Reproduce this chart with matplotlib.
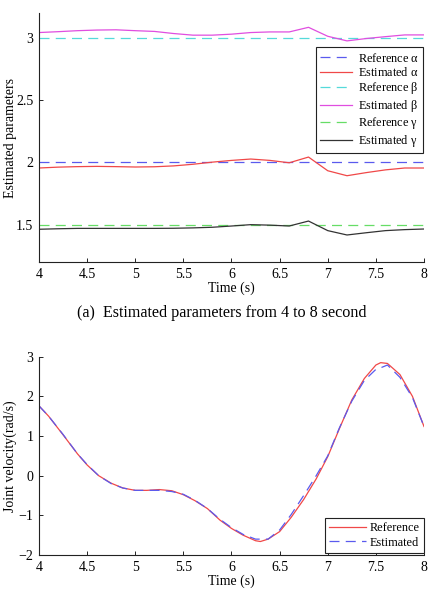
import numpy as np
from matplotlib import pyplot as plt

plt.rcParams.update({'font.size': 10, 'font.family': 'Liberation Serif',
                     'mathtext.fontset': 'custom', 'mathtext.rm': 'Liberation Serif',
                     'mathtext.it': 'Liberation Serif'})

# top chart: parameter estimates sampled every 0.2 s
t_par = [4.0, 4.2, 4.4, 4.6, 4.8, 5.0, 5.2, 5.4, 5.6, 5.8, 6.0,
         6.2, 6.4, 6.6, 6.8, 7.0, 7.2, 7.4, 7.6, 7.8, 8.0]
ref_alpha, ref_beta, ref_gamma = 2.0, 3.0, 1.5
est_alpha = [1.955, 1.962, 1.966, 1.968, 1.966, 1.963, 1.965, 1.972, 1.985, 2.002, 2.016,
             2.027, 2.016, 1.997, 2.043, 1.933, 1.893, 1.918, 1.940, 1.955, 1.955]
est_beta = [3.043, 3.050, 3.058, 3.063, 3.065, 3.058, 3.052, 3.035, 3.022, 3.022, 3.030,
            3.043, 3.048, 3.048, 3.085, 3.013, 2.976, 2.995, 3.010, 3.024, 3.024]
est_gamma = [1.463, 1.467, 1.470, 1.470, 1.470, 1.470, 1.470, 1.471, 1.474, 1.479, 1.489,
             1.500, 1.496, 1.489, 1.529, 1.452, 1.417, 1.435, 1.452, 1.460, 1.465]

# bottom chart: joint velocity
t_vel = [4.0, 4.1, 4.25, 4.4, 4.5, 4.62, 4.75, 4.87, 5.0, 5.12, 5.25, 5.38, 5.5, 5.62,
         5.75, 5.88, 6.0, 6.12, 6.25, 6.3, 6.38, 6.5, 6.62, 6.75, 6.88, 7.0, 7.12,
         7.25, 7.38, 7.5, 7.55, 7.62, 7.75, 7.88, 8.0]
vel_ref = [1.76, 1.50, 1.03, 0.55, 0.27, 0.00, -0.19, -0.31, -0.37, -0.37, -0.35, -0.38,
           -0.48, -0.63, -0.83, -1.12, -1.33, -1.50, -1.64, -1.66, -1.60, -1.41, -1.05,
           -0.60, -0.08, 0.48, 1.18, 1.91, 2.45, 2.79, 2.85, 2.83, 2.55, 2.00, 1.24]
vel_est = [1.76, 1.50, 1.04, 0.55, 0.28, 0.00, -0.20, -0.31, -0.37, -0.37, -0.37, -0.40,
           -0.47, -0.62, -0.83, -1.10, -1.31, -1.48, -1.60, -1.60, -1.60, -1.37, -0.98,
           -0.50, 0.00, 0.50, 1.20, 1.88, 2.40, 2.68, 2.72, 2.79, 2.48, 1.97, 1.24]

W, H = 435, 594
fig = plt.figure(figsize=(W / 100, H / 100), dpi=100)
DASH = (8, 5)


def style(ax):
    ax.spines['top'].set_visible(False)
    ax.spines['right'].set_visible(False)
    ax.tick_params(direction='in', length=3, width=0.6, labelsize=10, pad=4)
    for s in ('left', 'bottom'):
        ax.spines[s].set_linewidth(0.8)
        ax.spines[s].set_color('#222222')
    ax.set_xlim(4, 8)
    ax.set_xticks([4, 4.5, 5, 5.5, 6, 6.5, 7, 7.5, 8])
    ax.set_xticklabels(['4', '4.5', '5', '5.5', '6', '6.5', '7', '7.5', '8'])


# top axes
ax1 = fig.add_axes([39 / W, 1 - 262 / H, 385 / W, 249 / H])
lw = 0.9
ax1.plot(t_par, [ref_alpha] * len(t_par), '--', color='#5a5aee', lw=lw, dashes=DASH, label=r'Reference $\alpha$')
ax1.plot(t_par, est_alpha, '-', color='#f04848', lw=lw, label=r'Estimated $\alpha$')
ax1.plot(t_par, [ref_beta] * len(t_par), '--', color='#55dada', lw=lw, dashes=DASH, label=r'Reference $\beta$')
ax1.plot(t_par, est_beta, '-', color='#e04ee0', lw=lw, label=r'Estimated $\beta$')
ax1.plot(t_par, [ref_gamma] * len(t_par), '--', color='#66dd66', lw=lw, dashes=DASH, label=r'Reference $\gamma$')
ax1.plot(t_par, est_gamma, '-', color='#333333', lw=lw, label=r'Estimated $\gamma$')
style(ax1)
ax1.set_ylim(1.2, 3.2)
ax1.set_yticks([1.5, 2, 2.5, 3])
ax1.set_yticklabels(['1.5', '2', '2.5', '3'])
ax1.set_xlabel('Time (s)', labelpad=1)
ax1.set_ylabel('Estimated parameters')
ax1.yaxis.set_label_coords(-0.058, 0.5)
leg = ax1.legend(loc='upper right', bbox_to_anchor=(1.0, 0.865), fontsize=8.8, fancybox=False,
                 edgecolor='#222222', framealpha=1, handlelength=2.6, labelspacing=0.12,
                 borderpad=0.35, handletextpad=0.5, borderaxespad=0.05)
leg.get_frame().set_linewidth(0.8)

fig.text(222 / W, 1 - 313 / H, '(a)  Estimated parameters from 4 to 8 second',
         ha='center', va='center', fontsize=11.6, family='Liberation Serif')

# bottom axes
ax2 = fig.add_axes([39 / W, 1 - 555 / H, 385 / W, 198.3 / H])
ax2.plot(t_vel, vel_ref, '-', color='#f04848', lw=lw, label='Reference')
ax2.plot(t_vel, vel_est, '--', color='#5a5aee', lw=lw, dashes=DASH, label='Estimated')
style(ax2)
ax2.set_ylim(-2, 3)
ax2.set_yticks([-2, -1, 0, 1, 2, 3])
ax2.set_yticklabels(['\u22122', '\u22121', '0', '1', '2', '3'])
ax2.set_xlabel('Time (s)', labelpad=1)
ax2.set_ylabel('Joint velocity(rad/s)')
ax2.yaxis.set_label_coords(-0.058, 0.5)
leg2 = ax2.legend(loc='lower right', bbox_to_anchor=(1.0, 0.01), fontsize=8.8, fancybox=False,
                  edgecolor='#222222', framealpha=1, handlelength=3.0, labelspacing=0.2,
                  borderpad=0.35, handletextpad=0.3, borderaxespad=0.0)
leg2.get_frame().set_linewidth(0.8)

fig.savefig('out.png', dpi=100)
